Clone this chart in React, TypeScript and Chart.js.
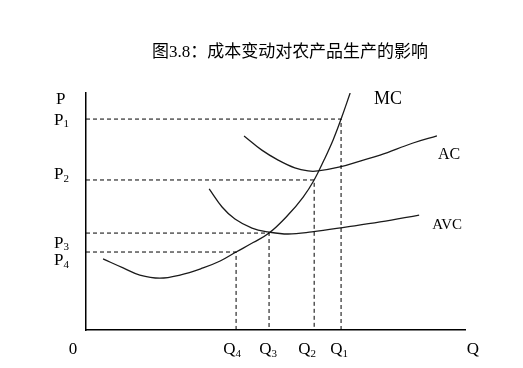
import React, { useEffect, useRef } from "react";
import { Chart, registerables } from "chart.js";

Chart.register(...registerables);

const TITLE = "图3.8：成本变动对农产品生产的影响";

// price levels P1..P4 and quantity levels Q1..Q4 (data units, 0-100 axes)
const priceLevels = [89.0, 63.3, 40.9, 32.9];
const quantityLevels = [67.3, 60.2, 48.3, 39.6];
const levelSubscripts = ["1", "2", "3", "4"];

// Marginal cost curve
const mcQ = [4.5, 9.8, 14.2, 19.5, 24.8, 30.9, 35.4, 39.6, 44.1, 48.3, 53.3, 57.3, 60.2, 62.8, 65.2, 67.3, 69.7];
const mcP = [30.0, 26.2, 23.2, 21.9, 23.2, 26.2, 29.1, 32.9, 36.9, 40.9, 48.5, 56.1, 63.3, 71.7, 80.2, 89.0, 100.0];

// Average cost curve
const acQ = [41.7, 46.4, 50.7, 55.1, 58.6, 61.2, 67.0, 72.3, 77.6, 86.3, 92.6];
const acP = [81.9, 75.9, 71.7, 68.4, 67.1, 67.1, 68.8, 71.3, 73.8, 78.9, 81.9];

// Average variable cost curve
const avcQ = [32.5, 35.9, 39.3, 43.8, 48.0, 53.3, 59.6, 68.9, 77.6, 87.9];
const avcP = [59.5, 51.9, 46.8, 43.0, 41.4, 40.5, 41.4, 43.5, 45.6, 48.5];

const curveNames = ["MC", "AC", "AVC"];

const SERIF = '"Liberation Serif", "Times New Roman", "Noto Sans CJK SC", serif';

const toPoints = (xs: number[], ys: number[]) => xs.map((x, i) => ({ x, y: ys[i] }));

const labelPlugin = {
  id: "econLabels",
  afterDraw(chart: any) {
    const { ctx, scales } = chart;
    const xs = scales.x;
    const ys = scales.y;
    const x0 = xs.getPixelForValue(0);
    const y0 = ys.getPixelForValue(0);
    ctx.save();
    ctx.fillStyle = "#000";
    ctx.textBaseline = "middle";

    // title
    ctx.font = `17px ${SERIF}`;
    ctx.textAlign = "center";
    ctx.fillText(TITLE, 290, 53);

    const drawSub = (main: string, sub: string, cx: number, cy: number, align: "left" | "center") => {
      ctx.font = `17px ${SERIF}`;
      const w1 = ctx.measureText(main).width;
      ctx.font = `11px ${SERIF}`;
      const w2 = ctx.measureText(sub).width;
      const total = w1 + w2;
      const start = align === "center" ? cx - total / 2 : cx;
      ctx.textAlign = "left";
      ctx.font = `17px ${SERIF}`;
      ctx.fillText(main, start, cy);
      ctx.font = `11px ${SERIF}`;
      ctx.fillText(sub, start + w1, cy + 4);
    };

    // y-axis labels
    const pOffsets = [1, -5, 10, 9];
    priceLevels.forEach((p, i) => {
      drawSub("P", levelSubscripts[i], x0 - 32, ys.getPixelForValue(p) + pOffsets[i], "left");
    });
    ctx.font = `17px ${SERIF}`;
    ctx.textAlign = "left";
    ctx.fillText("P", x0 - 30, ys.getPixelForValue(100) + 7);

    // x-axis labels
    const qOffsets = [-2, -7, -1, -4];
    quantityLevels.forEach((q, i) => {
      drawSub("Q", levelSubscripts[i], xs.getPixelForValue(q) + qOffsets[i], y0 + 20, "center");
    });
    ctx.font = `17px ${SERIF}`;
    ctx.textAlign = "center";
    ctx.fillText("0", x0 - 13, y0 + 20);
    ctx.fillText("Q", xs.getPixelForValue(100) + 8, y0 + 20);

    // curve names
    const namePos = [
      { x: 79.7, y: 97.5, size: 18 },
      { x: 95.8, y: 73.8, size: 16 },
      { x: 95.3, y: 44.3, size: 15 },
    ];
    curveNames.forEach((n, i) => {
      ctx.font = `${namePos[i].size}px ${SERIF}`;
      ctx.textAlign = "center";
      ctx.fillText(n, xs.getPixelForValue(namePos[i].x), ys.getPixelForValue(namePos[i].y));
    });
    ctx.restore();
  },
};

export default function App() {
  const ref = useRef<HTMLCanvasElement | null>(null);

  useEffect(() => {
    if (!ref.current) return;
    const dashed = priceLevels.map((p, i) => ({
      data: [
        { x: 0, y: p },
        { x: quantityLevels[i], y: p },
        { x: quantityLevels[i], y: 0 },
      ],
      borderColor: "#000",
      borderWidth: 1,
      borderDash: [4, 3],
      pointRadius: 0,
      showLine: true,
      tension: 0,
      fill: false,
    }));
    const curve = (xs: number[], ys: number[]) => ({
      data: toPoints(xs, ys),
      borderColor: "#1a1a1a",
      borderWidth: 1.3,
      pointRadius: 0,
      showLine: true,
      tension: 0.4,
      fill: false,
    });
    const chart = new Chart(ref.current, {
      type: "scatter",
      data: {
        datasets: [...dashed, curve(mcQ, mcP), curve(acQ, acP), curve(avcQ, avcP)] as any,
      },
      options: {
        animation: false,
        responsive: false,
        maintainAspectRatio: false,
        layout: { padding: { left: 78, right: 58, top: 93, bottom: 30 } },
        plugins: { legend: { display: false }, tooltip: { enabled: false }, title: { display: false } },
        scales: {
          x: {
            type: "linear",
            min: 0,
            max: 100,
            grid: { display: false },
            ticks: { display: false },
            border: { display: true, color: "#000", width: 1.5 },
          },
          y: {
            type: "linear",
            min: 0,
            max: 100,
            grid: { display: false },
            ticks: { display: false },
            border: { display: true, color: "#000", width: 1.5 },
          },
        },
      },
      plugins: [labelPlugin],
    });
    return () => chart.destroy();
  }, []);

  return (
    <div style={{ position: "absolute", left: 0, top: 0, width: 523, height: 368, background: "#fff" }}>
      <canvas ref={ref} width={523} height={368} style={{ width: 523, height: 368 }} />
    </div>
  );
}
